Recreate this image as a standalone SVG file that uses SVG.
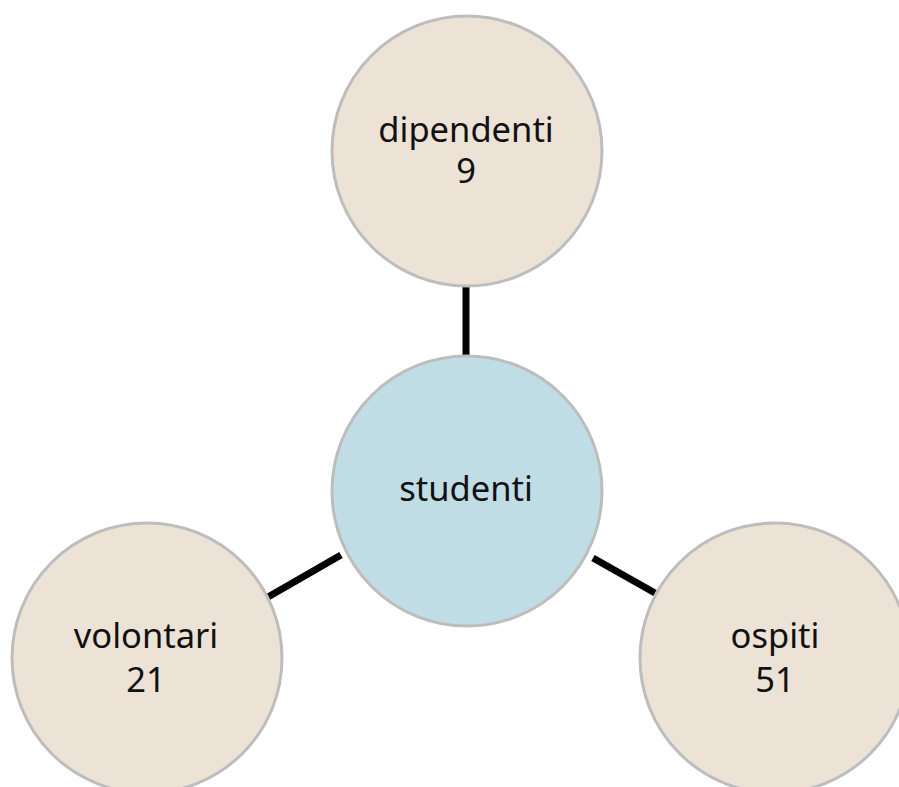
<svg xmlns="http://www.w3.org/2000/svg" width="899" height="787" viewBox="0 0 899 787">
  <style>
    .edge { stroke: #000000; stroke-width: 7; fill: none; }
    .node circle { stroke: #bdbdbd; stroke-width: 3; }
    .outer circle { fill: #ede2d6; }
    .hub circle { fill: #c0dce4; }
    .node text { font-family: "Noto Sans", "Open Sans", sans-serif; font-size: 34.5px; fill: #111111; text-anchor: middle; }
  </style>
  <rect width="899" height="787" fill="#ffffff"/>
  <g id="connectors">
    <line class="edge" x1="466" y1="287" x2="466" y2="355"/>
    <line class="edge" x1="268" y1="597" x2="341" y2="555"/>
    <line class="edge" x1="593" y1="558" x2="655" y2="593"/>
  </g>
  <g id="dipendenti" class="node outer">
    <circle cx="467" cy="151" r="135"/>
    <text x="466" y="142">dipendenti</text>
    <text x="466" y="183">9</text>
  </g>
  <g id="studenti" class="node hub">
    <circle cx="467" cy="491" r="135"/>
    <text x="466" y="501">studenti</text>
  </g>
  <g id="volontari" class="node outer">
    <circle cx="147" cy="658" r="135"/>
    <text x="146" y="648">volontari</text>
    <text x="146" y="692">21</text>
  </g>
  <g id="ospiti" class="node outer">
    <circle cx="775" cy="658" r="135"/>
    <text x="775" y="648">ospiti</text>
    <text x="775" y="692">51</text>
  </g>
</svg>
